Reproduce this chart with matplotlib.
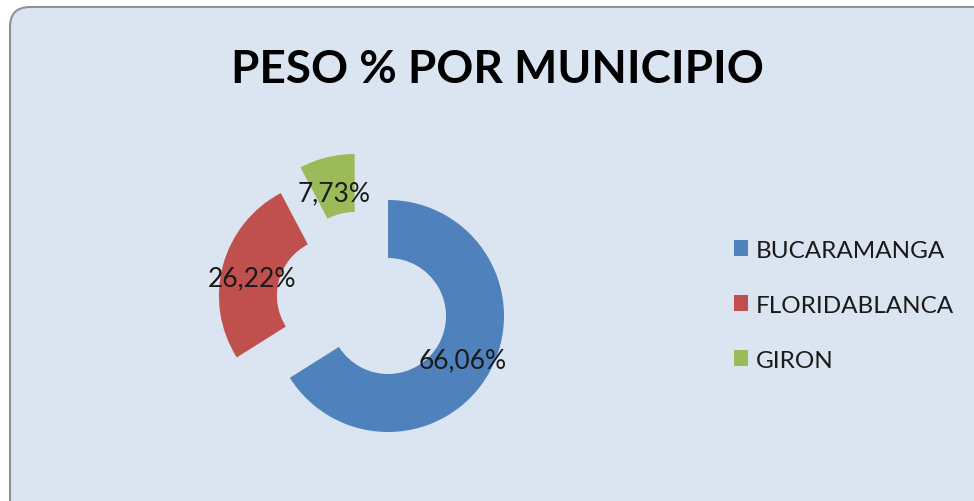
import numpy as np
import matplotlib.pyplot as plt
from matplotlib.patches import FancyBboxPatch, Patch
from matplotlib.transforms import IdentityTransform

# data
municipios = ["BUCARAMANGA", "FLORIDABLANCA", "GIRON"]
pesos = [66.06, 26.22, 7.73]
etiquetas = ["66,06%", "26,22%", "7,73%"]
colores = ["#4f81bd", "#c0504d", "#9bbb59"]
# explosion distance (radius units) and direction (deg clockwise from top)
explode = [0.0, 0.49, 0.49]
explode_ang = [0, 291, 324]

plt.rcParams["font.family"] = ["Lato", "DejaVu Sans"]

fig = plt.figure(figsize=(9.74, 5.02), dpi=100)
fig.patch.set_facecolor("white")

# rounded chart area, cropped at right/bottom
bg = FancyBboxPatch(
    (10, -40), 1020, 534,
    boxstyle="round,pad=0,rounding_size=20",
    transform=IdentityTransform(),
    facecolor="#dbe5f1", edgecolor="#8c9297", linewidth=1.5,
    zorder=-10,
)
fig.patches.append(bg)

fig.text(0.511, 0.860, "PESO % POR MUNICIPIO", ha="center", va="center",
         fontsize=33, fontweight="bold", color="black")

# axes: 1 unit = 116 px, center at (388, 317) from top-left
r_px = 116
cx, cy = 388, 502 - 317
ax = fig.add_axes([(cx - 2 * r_px) / 974, (cy - 1.5 * r_px) / 502,
                   4 * r_px / 974, 3.5 * r_px / 502])
ax.patch.set_alpha(0)

wedges, _ = ax.pie(
    pesos,
    colors=colores,
    startangle=90,
    counterclock=False,
    wedgeprops=dict(width=0.5, edgecolor="none"),
)

# exploded slices
for w, d, a in zip(wedges, explode, explode_ang):
    t = np.deg2rad(90 - a)
    w.set_center((d * np.cos(t), d * np.sin(t)))

# percentage labels at mid ring
for w, txt in zip(wedges, etiquetas):
    mid = np.deg2rad((w.theta1 + w.theta2) / 2)
    x0, y0 = w.center
    ax.text(x0 + 0.74 * np.cos(mid), y0 + 0.72 * np.sin(mid) - 0.03, txt,
            ha="center", va="center", fontsize=19, color="#1a1a1a")

ax.set_xlim(-2, 2)
ax.set_ylim(-1.5, 2.0)
ax.set_aspect("auto")
ax.axis("off")

handles = [Patch(facecolor=c, edgecolor="none") for c in colores]
fig.legend(handles, municipios, loc="center left", bbox_to_anchor=(0.731, 0.39),
           frameon=False, fontsize=17.5, handlelength=0.6, handleheight=0.6,
           handletextpad=0.3, labelspacing=1.4, labelcolor="#1a1a1a")

fig.savefig("out.png", dpi=100)
